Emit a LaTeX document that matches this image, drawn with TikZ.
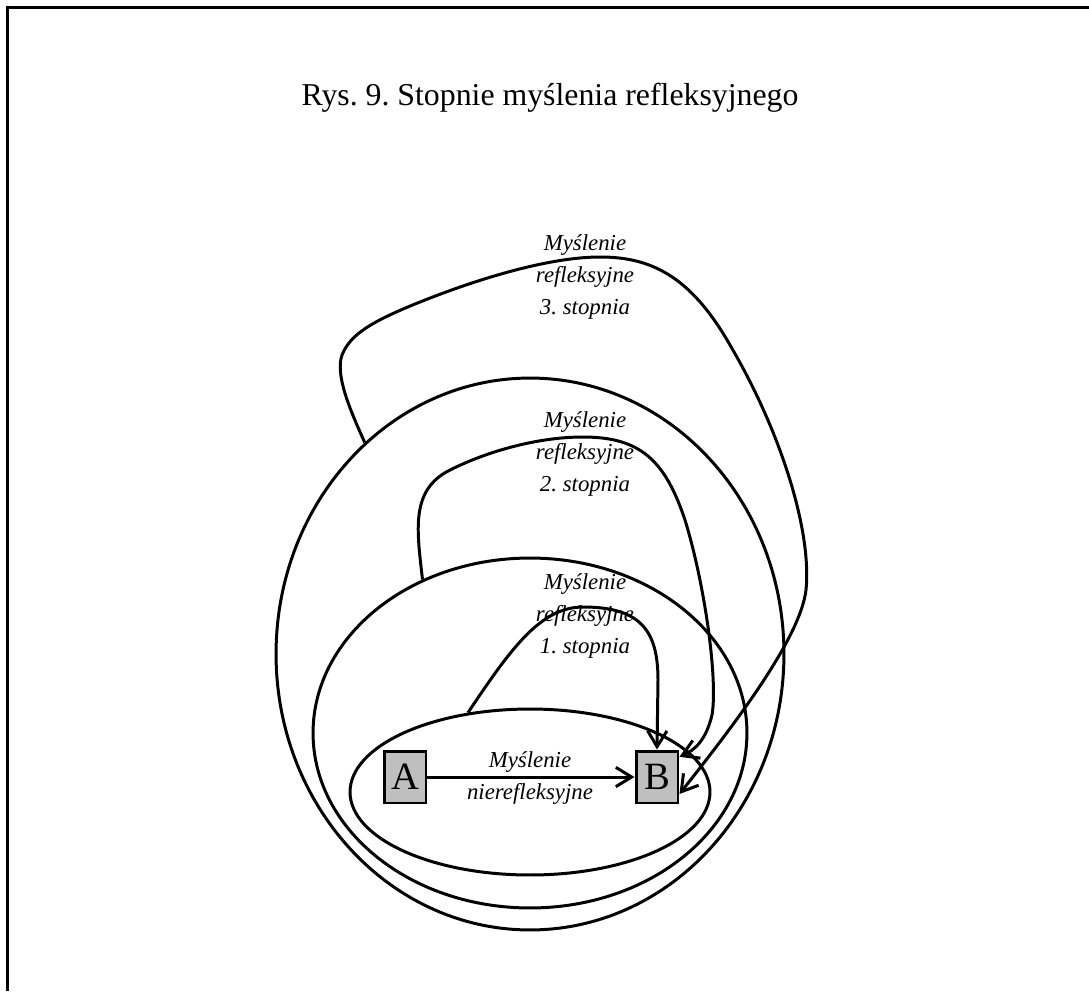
\documentclass[tikz,border=0pt]{standalone}
\usepackage{fontspec}
\setmainfont{Liberation Serif}
\usetikzlibrary{arrows.meta,shapes.geometric}
\frenchspacing
\begin{document}
\begin{tikzpicture}[x=0.02cm, y=-0.02cm, line width=1.7pt,
    >={Straight Barb[length=9pt,width=11pt]},
    ring/.style={draw, ellipse, inner sep=0pt},
    letter/.style={draw, fill=gray!50, minimum width=0.84cm, minimum height=1.04cm,
        inner sep=0pt, font=\fontsize{22}{24}\selectfont},
    caption/.style={align=center, inner sep=0pt, font=\fontsize{13}{18.1}\selectfont\itshape}]
    \useasboundingbox (0,0) rectangle (1089,991);
    \draw[line width=2pt] (7.5,991) -- (7.5,7.5) -- (1089,7.5);
    \node[anchor=base, font=\fontsize{18.1}{22}\selectfont] (title) at (550,105)
        {Rys. 9. Stopnie myślenia refleksyjnego};
    % three nested rings
    \foreach \n/\cy/\w/\h in {1/792/7.2/3.32, 2/733/8.68/7.0, 3/654/10.16/11.04}
        {
            \node[ring, minimum width=\w cm, minimum height=\h cm] (e\n) at (530,\cy) {};
        }
    \node[letter] (A) at (405,777) {A};
    \node[letter] (B) at (657,777) {B};
    \draw[->] (A) -- (B);
    \node[caption, anchor=base] (n0a) at (530,767) {Myślenie};
    \node[caption, anchor=base] (n0b) at (530,799) {nierefleksyjne};
    % labels of the loops
    \node[caption] (n1) at (585,616) {Myślenie\\refleksyjne\\1. stopnia};
    \node[caption] (n2) at (585,454) {Myślenie\\refleksyjne\\2. stopnia};
    \node[caption] (n3) at (585,277) {Myślenie\\refleksyjne\\3. stopnia};
    % loops
    \draw[->] (e1.128)..controls(510,650)and(540,607)..(583,607)
        ..controls(640,607)and(658,630)..(658,680) -- (B.north);
    \draw[->] (e2.125.5)..controls(417,530)and(410,490)..(450,470)
        ..controls(490,450)and(540,437)..(583,437)
        ..controls(640,437)and(665,460)..(685,520)
        ..controls(705,585)and(718,680)..(712,715)
        ..controls(706,740)and(695,750)..(B.42);
    \draw[->] (e3.128.3)..controls(350,410)and(335,375)..(342,355)
        ..controls(350,335)and(370,322)..(420,302)
        ..controls(480,278)and(550,257)..(600,257)
        ..controls(650,257)and(690,275)..(730,345)
        ..controls(780,430)and(812,530)..(806,590)
        ..controls(800,640)and(730,730)..(B.-37);
\end{tikzpicture}
\end{document}
